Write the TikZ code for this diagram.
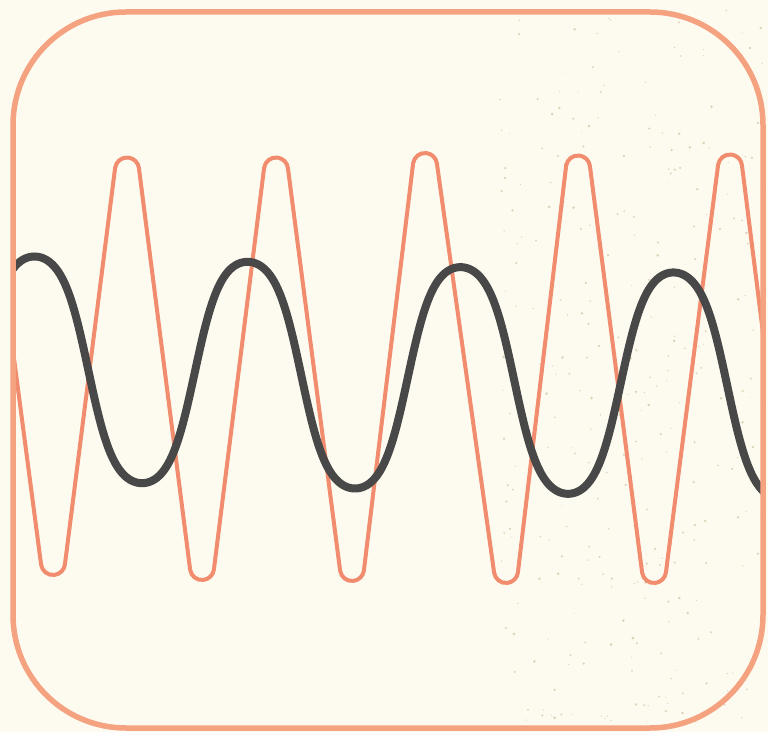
\documentclass[tikz,border=0pt]{standalone}
\definecolor{paper}{RGB}{253,251,240}
\definecolor{framec}{RGB}{245,162,128}
\definecolor{wavec}{RGB}{241,140,110}
\definecolor{sinec}{RGB}{72,72,72}
\definecolor{speck}{RGB}{190,172,130}
\tikzset{
  framestyle/.style={draw=framec, line width=5.5pt, rounded corners=113pt},
  tri/.style={draw=wavec, line width=4pt, line join=round},
  sinestyle/.style={draw=sinec, line width=8pt},
}
\begin{document}
\begin{tikzpicture}[x=1pt,y=1pt]
\useasboundingbox (0,0) rectangle (768,732);
\fill[paper] (0,0) rectangle (768,732);
% specks on the right
\pgfmathsetseed{11}
\foreach \i in {1,...,300}{
  \pgfmathsetmacro{\sx}{500+265*rnd}
  \pgfmathsetmacro{\sy}{10+712*rnd}
  \pgfmathsetmacro{\sr}{0.5+1.0*rnd}
  \fill[speck, opacity=0.5] (\sx,\sy) circle (\sr);
}
\def\R{12}
\def\T{7.5}
\begin{scope}
\clip[rounded corners=113pt] (13,4) rectangle (763,720);
\draw[tri]
  ([shift={(\T:\R)}]-23,562.5)
  -- ([shift={(180+\T:\R)}]53,169)   arc[start angle=180+\T, end angle=360-\T, radius=\R]
  -- ([shift={(180-\T:\R)}]127,562.5) arc[start angle=180-\T, end angle=\T, radius=\R]
  -- ([shift={(180+\T:\R)}]202,164)  arc[start angle=180+\T, end angle=360-\T, radius=\R]
  -- ([shift={(180-\T:\R)}]276,562.5) arc[start angle=180-\T, end angle=\T, radius=\R]
  -- ([shift={(180+\T:\R)}]352,163)  arc[start angle=180+\T, end angle=360-\T, radius=\R]
  -- ([shift={(180-\T:\R)}]425,567)  arc[start angle=180-\T, end angle=\T, radius=\R]
  -- ([shift={(180+\T:\R)}]506,161)  arc[start angle=180+\T, end angle=360-\T, radius=\R]
  -- ([shift={(180-\T:\R)}]578,564.5) arc[start angle=180-\T, end angle=\T, radius=\R]
  -- ([shift={(180+\T:\R)}]654,161)  arc[start angle=180+\T, end angle=360-\T, radius=\R]
  -- ([shift={(180-\T:\R)}]730,565.5) arc[start angle=180-\T, end angle=\T, radius=\R]
  -- ([shift={(180+\T:\R)}]805,161);
\draw[sinestyle] plot[domain=8:772, samples=500, smooth]
  (\x, {363.5-0.025*(\x-35)+112*tanh(1.15*cos((\x-35)/213*360))/tanh(1.15)});
\end{scope}
\draw[framestyle] (13,4) rectangle (763,720);
\end{tikzpicture}
\end{document}
